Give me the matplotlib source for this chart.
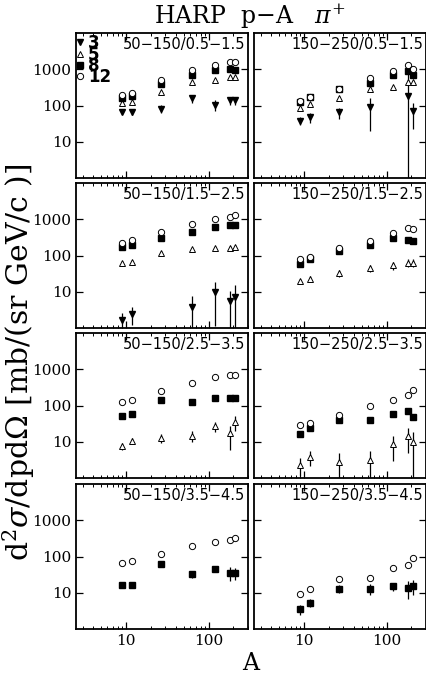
import numpy as np
import matplotlib
matplotlib.use("Agg")
import matplotlib.pyplot as plt
from matplotlib.lines import Line2D

plt.rcParams['font.family'] = ['DejaVu Serif']
plt.rcParams['mathtext.fontset'] = 'dejavuserif'

nan = np.nan
A = [9.01, 12.01, 26.98, 63.55, 118.71, 180.95, 207.2]
energies = ["3", "5", "8", "12"]
panel_labels = ["50\u2212150/0.5\u22121.5", "150\u2212250/0.5\u22121.5",
                "50\u2212150/1.5\u22122.5", "150\u2212250/1.5\u22122.5",
                "50\u2212150/2.5\u22123.5", "150\u2212250/2.5\u22123.5",
                "50\u2212150/3.5\u22124.5", "150\u2212250/3.5\u22124.5"]

# values per panel: [3 GeV, 5 GeV, 8 GeV, 12 GeV]
p0_v = [[68, 66, 82, 160, 105, 140, 140],
        [120, 125, 230, 440, 490, 600, 600],
        [165, 185, 390, 700, 980, 1000, 980],
        [200, 215, 500, 950, 1300, 1600, 1600]]
p0_e = [[10, 12, 20, 40, 35, 35, 35],
        [12, 12, 25, 45, 50, 60, 60],
        [15, 18, 35, 60, 90, 100, 100],
        [20, 20, 50, 90, 130, 160, 160]]
p1_v = [[38, 47, 65, 90, nan, 178, 71],
        [83, 110, 165, 290, 320, 455, 450],
        [125, 170, 290, 425, 700, 900, 700],
        [130, 175, 280, 560, 920, 1270, 1000]]
p1_e = [[9, 14, 22, 70, nan, 1100, 48],
        [10, 12, 20, 40, 35, 60, 60],
        [12, 16, 28, 45, 70, 100, 80],
        [13, 17, 28, 60, 90, 150, 110]]
p2_v = [[1.7, 2.5, nan, 3.8, 9.6, 5.6, 7.0],
        [63, 68, 120, 150, 160, 160, 173],
        [173, 192, 295, 435, 625, 695, 695],
        [228, 260, 450, 725, 1000, 1190, 1320]]
p2_e = [[0.9, 1.3, nan, 4.0, 8.5, 5.0, 8.0],
        [6, 7, 12, 15, 16, 18, 20],
        [17, 19, 30, 45, 60, 70, 70],
        [23, 26, 45, 70, 100, 120, 130]]
p3_v = [[nan] * 7,
        [20, 23, 33, 46, 53, 63, 63],
        [59, 78, 130, 192, 295, 265, 250],
        [82, 91, 165, 250, 410, 585, 540]]
p3_e = [[nan] * 7,
        [3, 4, 7, 10, 12, 15, 15],
        [6, 8, 15, 20, 30, 30, 30],
        [8, 10, 18, 30, 45, 70, 60]]
p4_v = [[nan] * 7,
        [7.6, 10.7, 13, 14.7, 27, 17, 35],
        [52, 59, 146, 126, 166, 166, 166],
        [126, 146, 253, 420, 600, 680, 680]]
p4_e = [[nan] * 7,
        [1.8, 2.0, 3.5, 5.0, 8.0, 11, 15],
        [5, 6, 14, 13, 17, 17, 17],
        [12, 14, 25, 40, 55, 65, 65]]
p5_v = [[nan] * 7,
        [2.3, 3.9, 2.8, 3.2, 8.5, 14.5, 9.6],
        [16, 24.6, 40, 41, 60, 72, 49],
        [29, 32, 56, 100, 146, 200, 265]]
p5_e = [[nan] * 7,
        [1.2, 1.7, 2.0, 2.5, 5.5, 9.5, 8.6],
        [2, 3, 5, 6, 10, 12, 10],
        [3, 4, 7, 14, 18, 30, 40]]
p6_v = [[nan] * 7,
        [nan] * 7,
        [16, 16, 61, 32, 46, 36, 36],
        [66, 74, 116, 195, 246, 290, 316]]
p6_e = [[nan] * 7,
        [nan] * 7,
        [2, 2, 6, 6, 8, 15, 13],
        [6, 7, 12, 18, 22, 30, 30]]
p7_v = [[nan] * 7,
        [nan] * 7,
        [3.5, 5.3, 13, 13, 15, 13.7, 15.5],
        [9, 12.6, 24.6, 25.8, 49, 59, 90]]
p7_e = [[nan] * 7,
        [nan] * 7,
        [1.0, 1.3, 3, 4.5, 4, 7, 7],
        [1, 2, 4, 5, 6, 10, 15]]

values = [p0_v, p1_v, p2_v, p3_v, p4_v, p5_v, p6_v, p7_v]
errors = [p0_e, p1_e, p2_e, p3_e, p4_e, p5_e, p6_e, p7_e]

styles = [dict(marker='v', mfc='black', mec='black', ms=5),
          dict(marker='^', mfc='white', mec='black', ms=4.5, mew=0.7),
          dict(marker='s', mfc='black', mec='black', ms=3.8),
          dict(marker='o', mfc='white', mec='black', ms=4.5, mew=0.7)]

W, H = 427, 676
fig = plt.figure(figsize=(W / 100, H / 100), dpi=100)
col_x = [76, 254]
row_top = [33, 183, 333, 484]
pw, ph = 172, 145

for i in range(8):
    r, c = divmod(i, 2)
    ax = fig.add_axes([col_x[c] / W, 1 - (row_top[r] + ph) / H, pw / W, ph / H])
    ax.set_xscale('log')
    ax.set_yscale('log')
    ax.set_xlim(2.5, 300)
    ax.set_ylim(1, 1.0e4)
    for k in range(4):
        v = np.array(values[i][k], dtype=float)
        e = np.array(errors[i][k], dtype=float)
        if np.all(np.isnan(v)):
            continue
        ax.errorbar(A, v, yerr=e, fmt='none', ecolor='black', elinewidth=0.9, capsize=0)
        ax.plot(A, v, ls='none', **styles[k])
    ax.tick_params(which='both', direction='in', top=True, right=True)
    ax.tick_params(which='major', length=5, width=0.9, labelsize=11)
    ax.tick_params(which='minor', length=2.5, width=0.7)
    ax.set_yticks([10, 100, 1000])
    ax.set_xticks([10, 100])
    if c == 0:
        ax.set_yticklabels(['10', '100', '1000'])
    else:
        ax.set_yticklabels([])
    if r == 3:
        ax.set_xticklabels(['10', '100'])
    else:
        ax.set_xticklabels([])
    for s in ax.spines.values():
        s.set_linewidth(1.3)
    ax.text(0.985, 0.975, panel_labels[i], transform=ax.transAxes,
            ha='right', va='top', fontsize=10.5, family='DejaVu Sans')
    if i == 0:
        handles = [Line2D([], [], ls='none', **styles[k]) for k in range(4)]
        ax.legend(handles, energies, loc='upper left', bbox_to_anchor=(-0.06, 1.06),
                  frameon=False, labelspacing=-0.4, handlelength=0.5,
                  handletextpad=0.25, borderpad=0.1,
                  prop=dict(family='DejaVu Sans', weight='bold', size=12))

fig.text(0.585, 0.976, r'HARP  p$-$A   $\pi^{+}$', ha='center', va='center', fontsize=17)
fig.text(0.043, 0.464, r'd$^2\sigma$/dpd$\Omega$ [mb/(sr GeV/c )]', rotation=90,
         ha='center', va='center', fontsize=21.5)
fig.text(0.588, 0.018, 'A', ha='center', va='center', fontsize=17)

fig.savefig('out.png', dpi=100)
